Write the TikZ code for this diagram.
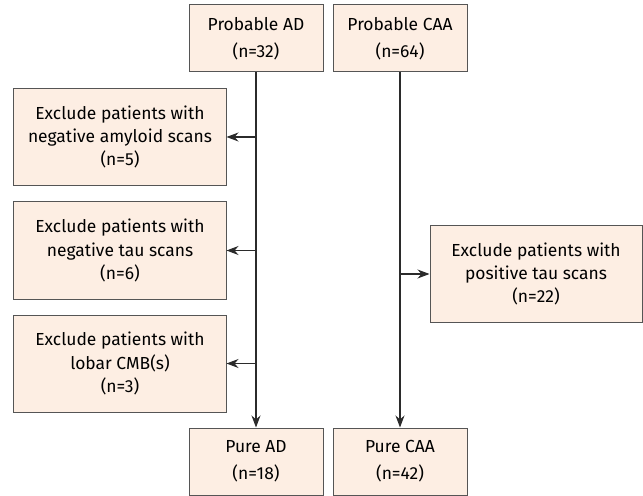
\documentclass[tikz,border=0pt]{standalone}
\usepackage{fontspec}
\setmainfont{Fira Sans}
\usetikzlibrary{arrows.meta}
\definecolor{boxfill}{HTML}{FDEEE3}
\definecolor{boxline}{HTML}{555555}
\definecolor{flowline}{HTML}{2B2B2B}

\begin{document}
\begin{tikzpicture}[x=1bp, y=-1bp,
    box/.style={draw=boxline, fill=boxfill, line width=1bp, align=center, inner sep=0pt, font=\fontsize{17.5}{23.5}\selectfont},
    topbox/.style={box, minimum width=134bp, minimum height=67bp, font=\fontsize{17.5}{27}\selectfont},
    exbox/.style={box, minimum width=212bp, minimum height=97bp},
    flow/.style={draw=flowline, line width=1.1bp, -{Stealth[length=12bp, width=9bp]}}]
            \useasboundingbox (0,0) rectangle (643,496);

            % starting groups
            \node[topbox] (pad)  at (256,38.5) {Probable AD\\(n=32)};
            \node[topbox] (pcaa) at (400,38.5) {Probable CAA\\(n=64)};

            % exclusions
            \node[exbox] (exa) at (120,137) {Exclude patients with\\negative amyloid scans\\(n=5)};
            \node[exbox] (exb) at (120,250.5) {Exclude patients with\\negative tau scans\\(n=6)};
            \node[exbox] (exc) at (120,363.5) {Exclude patients with\\lobar CMB(s)\\(n=3)};
            \node[exbox] (exd) at (536,274) {Exclude patients with\\positive tau scans\\(n=22)};

            % final groups
            \node[topbox] (pured)  at (256,461.5) {Pure AD\\(n=18)};
            \node[topbox] (purcaa) at (400,461.5) {Pure CAA\\(n=42)};

            \draw[flow] (pad) -- (pured);
            \draw[flow] (pcaa) -- (purcaa);

            \foreach \n in {exa, exb, exc} {
                \coordinate (j\n) at (pad.south |- \n.east);
                \draw[flow] (j\n) -- (\n.east);
            }
            \coordinate (jexd) at (pcaa.south |- exd.west);
            \draw[flow] (jexd) -- (exd.west);

        \end{tikzpicture}
\end{document}
